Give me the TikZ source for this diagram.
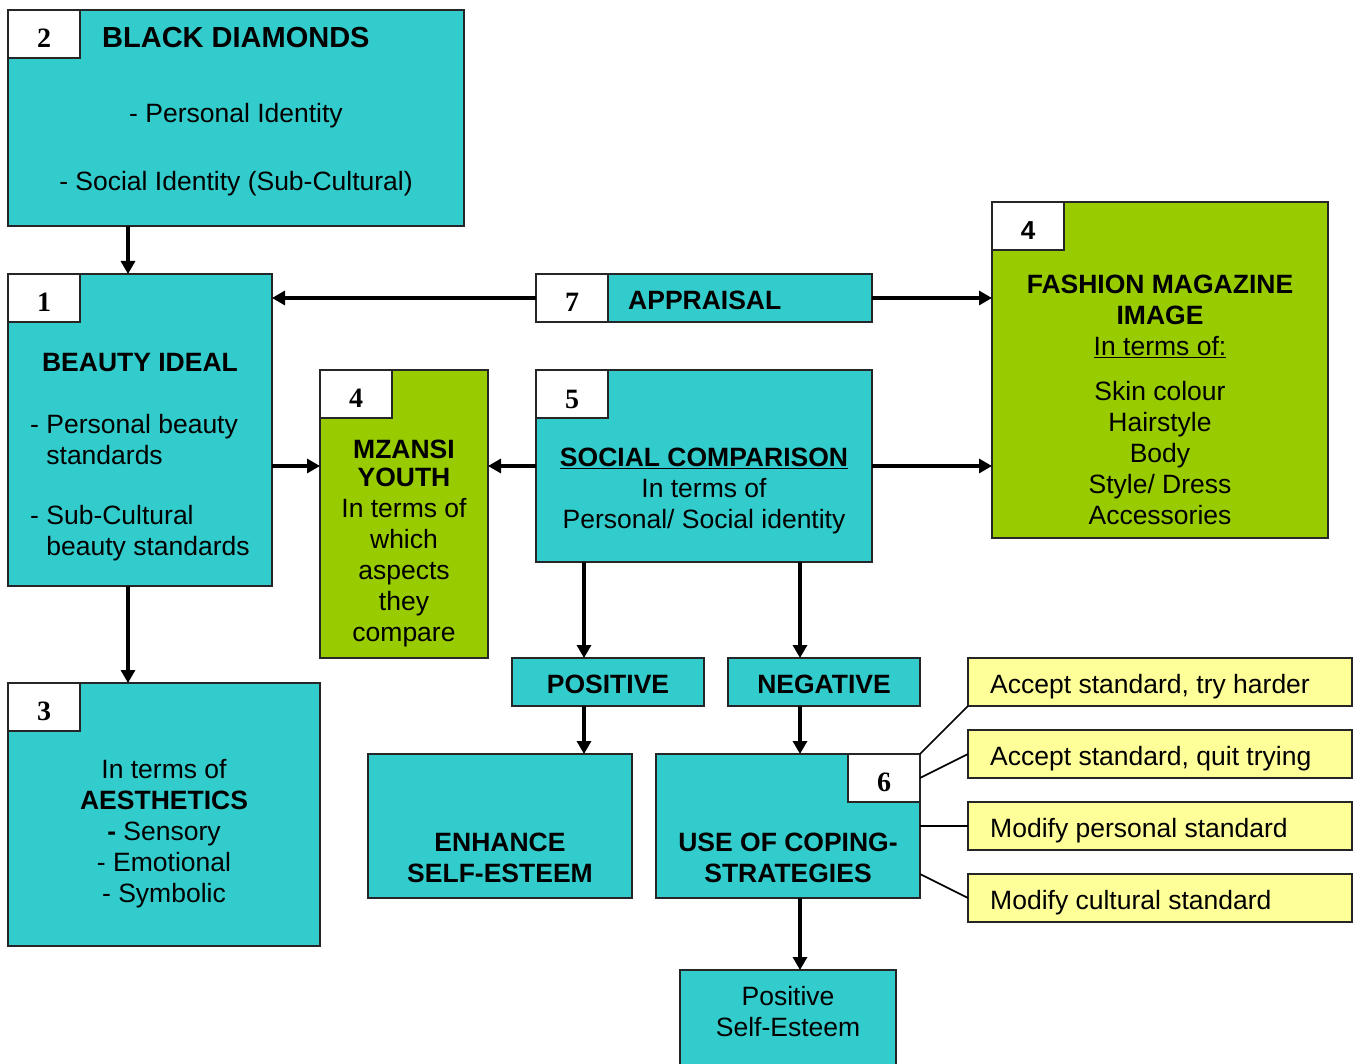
\documentclass[tikz,border=0pt]{standalone}
\usepackage{fontspec}
\setmainfont{Liberation Sans}
\newfontfamily\numfont{Liberation Serif}
\usetikzlibrary{arrows.meta}
\definecolor{tealc}{HTML}{33CCCC}
\definecolor{limec}{HTML}{99CC00}
\definecolor{yelc}{HTML}{FFFF99}
\newcommand\fsz{\fontsize{26.5}{31}\selectfont}
\tikzset{
  box/.style={draw=black!85, line width=1.6pt, inner sep=0pt, outer sep=0pt, anchor=north west},
  tbox/.style={box, fill=tealc},
  gbox/.style={box, fill=limec},
  ybox/.style={box, fill=yelc},
  numbox/.style={box, fill=white, minimum width=72pt, minimum height=48pt, text height=27pt, text depth=0pt, font=\numfont\bfseries\fontsize{28}{30}\selectfont},
  txt/.style={inner sep=0pt, font=\fsz, align=center},
  ytxt/.style={inner sep=0pt, anchor=west, font=\fontsize{26.5}{31}\selectfont},
  arr/.style={line width=3.2pt, -{Triangle[length=13pt,width=14pt]}},
  ln/.style={line width=1.6pt},
}
\begin{document}
\begin{tikzpicture}[x=1pt,y=-1pt]
\useasboundingbox (0,0) rectangle (1363,1064);
% boxes
\node[tbox, minimum width=456pt, minimum height=216pt] (b2) at (8,10) {};
\node[numbox] (n2) at (8,10) {2};
\node[tbox, minimum width=264pt, minimum height=312pt] (b1) at (8,274) {};
\node[numbox] (n1) at (8,274) {1};
\node[tbox, minimum width=312pt, minimum height=263pt] (b3) at (8,683) {};
\node[numbox] (n3) at (8,683) {3};
\node[gbox, minimum width=168pt, minimum height=288pt] (mz) at (320,370) {};
\node[numbox] (nmz) at (320,370) {4};
\node[tbox, minimum width=336pt, minimum height=48pt] (ap) at (536,274) {};
\node[numbox] (nap) at (536,274) {7};
\node[tbox, minimum width=336pt, minimum height=192pt] (sc) at (536,370) {};
\node[numbox, text height=29pt] (nsc) at (536,370) {5};
\node[gbox, minimum width=336pt, minimum height=336pt] (fa) at (992,202) {};
\node[numbox, text height=26.5pt, font=\bfseries\fontsize{26}{30}\selectfont] (nfa) at (992,202) {4};
\node[tbox, minimum width=192pt, minimum height=48pt] (po) at (512,658) {};
\node[tbox, minimum width=192pt, minimum height=48pt] (ne) at (728,658) {};
\node[tbox, minimum width=264pt, minimum height=144pt] (en) at (368,754) {};
\node[tbox, minimum width=264pt, minimum height=144pt] (co) at (656,754) {};
\node[numbox] (nco) at (848,754) {6};
\node[ybox, minimum width=384pt, minimum height=48pt] (y1) at (968,658) {};
\node[ybox, minimum width=384pt, minimum height=48pt] (y2) at (968,730) {};
\node[ybox, minimum width=384pt, minimum height=48pt] (y3) at (968,802) {};
\node[ybox, minimum width=384pt, minimum height=48pt] (y4) at (968,874) {};
\node[tbox, minimum width=216pt, minimum height=100pt] (ps) at (680,970) {};
% texts
\node[txt, anchor=base west, font=\fontsize{29}{32}\selectfont\bfseries] (t2a) at (102,48) {BLACK DIAMONDS};
\node[txt, anchor=base] (t2b) at (236,123) {- Personal Identity};
\node[txt, anchor=base] (t2c) at (236,191) {- Social Identity (Sub-Cultural)};
\node[txt, anchor=base, font=\fsz\bfseries] (t1a) at (140,372) {BEAUTY IDEAL};
\node[txt, align=left, anchor=north west] (t1b) at (30,414) {- Personal beauty\\\phantom{- }standards};
\node[txt, align=left, anchor=north west] (t1c) at (30,505) {- Sub-Cultural\\\phantom{- }beauty standards};
\node[txt] (t3) at (164,834) {In terms of\\\textbf{AESTHETICS}\\\textbf{-} Sensory\\- Emotional\\- Symbolic};
\node[txt] (tmz) at (404,543) {\textbf{MZANSI}\\[-3pt]\textbf{YOUTH}\\In terms of\\which\\aspects\\they\\compare};
\node[txt, anchor=base west, font=\fsz\bfseries] (tap) at (628,310) {APPRAISAL};
\node[txt] (tsc) at (704,491) {\textbf{\underline{SOCIAL COMPARISON}}\\In terms of\\Personal/ Social identity};
\node[txt] (tfa1) at (1160,316) {\textbf{FASHION MAGAZINE}\\\textbf{IMAGE}\\\underline{In terms of:}};
\node[txt] (tfa2) at (1160,453) {Skin colour\\Hairstyle\\Body\\Style/ Dress\\Accessories};
\node[txt, font=\fsz\bfseries] (tpo) at ([yshift=-2pt]po.center) {POSITIVE};
\node[txt, font=\fsz\bfseries] (tne) at ([yshift=-2pt]ne.center) {NEGATIVE};
\node[txt, font=\fsz\bfseries] (ten) at (500,858) {ENHANCE\\SELF-ESTEEM};
\node[txt, font=\fsz\bfseries] (tco) at (788,858) {USE OF COPING-\\STRATEGIES};
\node[txt] (tps) at (788,1012) {Positive\\Self-Esteem};
\node[ytxt] (ty1) at ([xshift=22pt,yshift=-5pt]y1.west) {Accept standard, try harder};
\node[ytxt] (ty2) at ([xshift=22pt,yshift=-5pt]y2.west) {Accept standard, quit trying};
\node[ytxt] (ty3) at ([xshift=22pt,yshift=-5pt]y3.west) {Modify personal standard};
\node[ytxt] (ty4) at ([xshift=22pt,yshift=-5pt]y4.west) {Modify cultural standard};
% helper coordinates
\coordinate (pA) at ([xshift=-24pt]po.north);
\coordinate (nA) at ([xshift=-24pt]ne.north);
% arrows
\draw[arr] ([xshift=120pt]b2.south west) -- ([xshift=120pt]b1.north west);
\draw[arr] (nap.west) -- (b1.east |- nap.west);
\draw[arr] (ap.east) -- (fa.west |- ap.east);
\draw[arr] (b1.east |- sc.west) -- (mz.west |- sc.west);
\draw[arr] (sc.west) -- (mz.east |- sc.west);
\draw[arr] (sc.east) -- (fa.west |- sc.east);
\draw[arr] ([xshift=120pt]b1.south west) -- ([xshift=120pt]b3.north west);
\draw[arr] (sc.south -| pA) -- (pA);
\draw[arr] (sc.south -| nA) -- (nA);
\draw[arr] (po.south -| pA) -- (en.north -| pA);
\draw[arr] (ne.south -| nA) -- (co.north -| nA);
\draw[arr] (co.south -| nA) -- (ps.north -| nA);
% plain connectors
\draw[ln] (co.north east) -- (y1.south west);
\draw[ln] ([yshift=-24pt]co.north east) -- (y2.west);
\draw[ln] (co.east |- y3.west) -- (y3.west);
\draw[ln] ([yshift=24pt]co.south east) -- (y4.west);
\end{tikzpicture}
\end{document}
